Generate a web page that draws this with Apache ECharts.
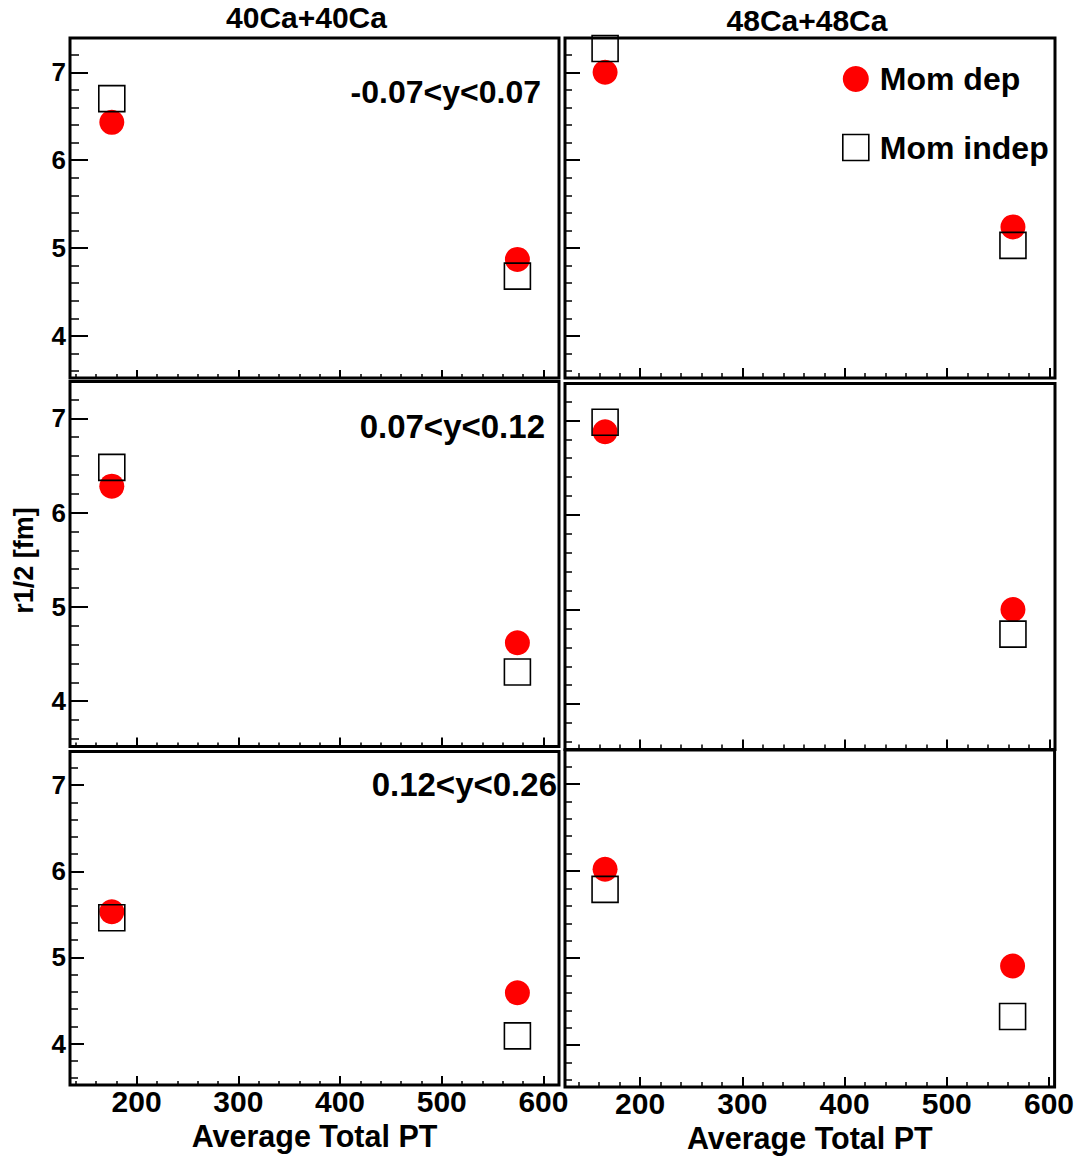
<!DOCTYPE html>
<html>
<head>
<meta charset="utf-8">
<script src="https://cdn.jsdelivr.net/npm/echarts@6/dist/echarts.min.js"></script>
<style>
html,body{margin:0;padding:0;background:#fff;}
#chart{width:1077px;height:1156px;}
</style>
</head>
<body>
<div id="chart"></div>
<script>
// ---------- data ----------
const systems = ['40Ca+40Ca', '48Ca+48Ca'];
const rapidityBins = ['-0.07<y<0.07', '0.07<y<0.12', '0.12<y<0.26'];
const seriesNames = ['Mom dep', 'Mom indep'];
const ca40Pt = [175.6, 574.4];
const ca48Pt = [165.7, 564.4];
const ca40MomDep   = [[6.43, 4.87], [6.28, 4.62], [5.53, 4.59]];
const ca40MomIndep = [[6.70, 4.68], [6.48, 4.31], [5.46, 4.09]];
const ca48MomDep   = [[7.00, 5.24], [6.88, 5.00], [6.02, 4.91]];
const ca48MomIndep = [[7.27, 5.03], [6.98, 4.74], [5.79, 4.33]];
const xTickLabels = [200, 300, 400, 500, 600];
const xMinorTicks = [140, 160, 180, 220, 240, 260, 280, 320, 340, 360, 380, 420, 440, 460, 480, 520, 540, 560, 580];
const yTickLabels = [4, 5, 6, 7];
const yMinorTicks = [3.6, 3.8, 4.2, 4.4, 4.6, 4.8, 5.2, 5.4, 5.6, 5.8, 6.2, 6.4, 6.6, 6.8, 7.2];
const yRange = [3.52, 7.39];
const xRangeLeft = [134.5, 615.3];
const xRangeRight = [126.5, 605.5];
const xAxisTitle = 'Average Total PT';
const yAxisTitle = 'r1/2 [fm]';

// ---------- layout ----------
const FONT = 'Liberation Sans, Arial, Helvetica, sans-serif';
const panels = [
  {left: 70,  top: 38,    width: 489, height: 340},
  {left: 565, top: 38,    width: 490, height: 340},
  {left: 70,  top: 381.5, width: 489, height: 365},
  {left: 565, top: 383.5, width: 490, height: 366},
  {left: 70,  top: 751.5, width: 489, height: 333.5},
  {left: 565, top: 750,   width: 490, height: 337}
];
const yTickLen = [[18, 9], [15, 7], [18, 9], [15, 7], [14, 8], [15, 7]];
const xTickLen = [[8, 4], [10, 5], [9, 4], [10, 5], [9, 4], [10, 5]];

const grid = [], xAxis = [], yAxis = [], series = [];
panels.forEach((g, p) => {
  const row = Math.floor(p / 2), col = p % 2;
  grid.push(Object.assign({show: true, borderColor: '#000', borderWidth: 3, backgroundColor: 'transparent', containLabel: false}, g));
  const xr = col === 0 ? xRangeLeft : xRangeRight;
  const bottomRow = row === 2;
  // major x axis
  xAxis.push({
    type: 'value', gridIndex: p, position: 'bottom', offset: 0, min: xr[0], max: xr[1],
    axisLine: {show: false, onZero: false}, splitLine: {show: false},
    axisTick: {show: true, inside: true, length: xTickLen[p][0], customValues: xTickLabels, lineStyle: {color: '#000', width: 2}},
    axisLabel: {show: bottomRow, customValues: xTickLabels, margin: 1, color: '#000', fontSize: 30, fontWeight: 'bold', fontFamily: FONT},
    name: bottomRow ? xAxisTitle : '', nameLocation: 'middle', nameGap: 35,
    nameTextStyle: {color: '#000', fontSize: 30.5, fontWeight: 'bold', fontFamily: FONT}
  });
  // minor x axis
  xAxis.push({
    type: 'value', gridIndex: p, position: 'bottom', offset: 0, min: xr[0], max: xr[1],
    axisLine: {show: false, onZero: false}, splitLine: {show: false}, axisLabel: {show: false},
    axisTick: {show: true, inside: true, length: xTickLen[p][1], customValues: xMinorTicks, lineStyle: {color: '#000', width: 1.5}}
  });
  // major y axis
  yAxis.push({
    type: 'value', gridIndex: p, position: 'left', offset: 0, min: yRange[0], max: yRange[1],
    axisLine: {show: false, onZero: false}, splitLine: {show: false},
    axisTick: {show: true, inside: true, length: yTickLen[p][0], customValues: yTickLabels, lineStyle: {color: '#000', width: 2}},
    axisLabel: {show: col === 0, customValues: yTickLabels, margin: 4, color: '#000', fontSize: 26, fontWeight: 'bold', fontFamily: FONT},
    name: p === 2 ? yAxisTitle : '', nameLocation: 'middle', nameGap: 33, nameRotate: 90,
    nameTextStyle: {color: '#000', fontSize: 27, fontWeight: 'bold', fontFamily: FONT, padding: [0, 0, 0, 7]}
  });
  // minor y axis
  yAxis.push({
    type: 'value', gridIndex: p, position: 'left', offset: 0, min: yRange[0], max: yRange[1],
    axisLine: {show: false, onZero: false}, splitLine: {show: false}, axisLabel: {show: false},
    axisTick: {show: true, inside: true, length: yTickLen[p][1], customValues: yMinorTicks, lineStyle: {color: '#000', width: 1.5}}
  });

  const pts = col === 0 ? ca40Pt : ca48Pt;
  const dep = col === 0 ? ca40MomDep[row] : ca48MomDep[row];
  const indep = col === 0 ? ca40MomIndep[row] : ca48MomIndep[row];
  series.push({
    type: 'scatter', name: seriesNames[0], xAxisIndex: 2 * p, yAxisIndex: 2 * p,
    data: pts.map((x, i) => [x, dep[i]]),
    symbol: 'circle', symbolSize: 25, itemStyle: {color: '#ff0000', opacity: 1}, z: 3, silent: true, clip: true
  });
  series.push({
    type: 'scatter', name: seriesNames[1], xAxisIndex: 2 * p, yAxisIndex: 2 * p,
    data: pts.map((x, i) => [x, indep[i]]),
    symbol: 'rect', symbolSize: 26,
    itemStyle: {color: 'rgba(0,0,0,0)', borderColor: '#000', borderWidth: 1.6, opacity: 1}, z: 4, silent: true, clip: true
  });
});

const textStyleBase = {fill: '#000', fontWeight: 'bold', fontFamily: FONT};
const graphic = [
  {type: 'text', x: 306.5, y: 17.5, style: Object.assign({text: systems[0], fontSize: 30, textAlign: 'center', textVerticalAlign: 'middle'}, textStyleBase)},
  {type: 'text', x: 807, y: 20, style: Object.assign({text: systems[1], fontSize: 30, textAlign: 'center', textVerticalAlign: 'middle'}, textStyleBase)},
  {type: 'text', x: 541, y: 91.5, style: Object.assign({text: rapidityBins[0], fontSize: 32, textAlign: 'right', textVerticalAlign: 'middle'}, textStyleBase)},
  {type: 'text', x: 545, y: 426, style: Object.assign({text: rapidityBins[1], fontSize: 33, textAlign: 'right', textVerticalAlign: 'middle'}, textStyleBase)},
  {type: 'text', x: 557, y: 784, style: Object.assign({text: rapidityBins[2], fontSize: 33, textAlign: 'right', textVerticalAlign: 'middle'}, textStyleBase)}
];

const chart = echarts.init(document.getElementById('chart'), null, {renderer: 'svg'});
chart.setOption({
  animation: false,
  backgroundColor: '#fff',
  textStyle: {fontFamily: FONT},
  grid, xAxis, yAxis, series, graphic,
  legend: {
    orient: 'vertical', left: 842, top: 63, padding: 0,
    itemWidth: 26, itemHeight: 26, itemGap: 36.5, selectedMode: false,
    textStyle: {color: '#000', fontSize: 32, fontWeight: 'bold', fontFamily: FONT, lineHeight: 26, padding: [0, 0, 0, 6]},
    data: [
      {name: seriesNames[0], icon: 'circle', itemStyle: {color: '#ff0000', opacity: 1}},
      {name: seriesNames[1], icon: 'rect', itemStyle: {color: 'rgba(0,0,0,0)', borderColor: '#000', borderWidth: 1.6}}
    ]
  }
});
</script>
</body>
</html>
